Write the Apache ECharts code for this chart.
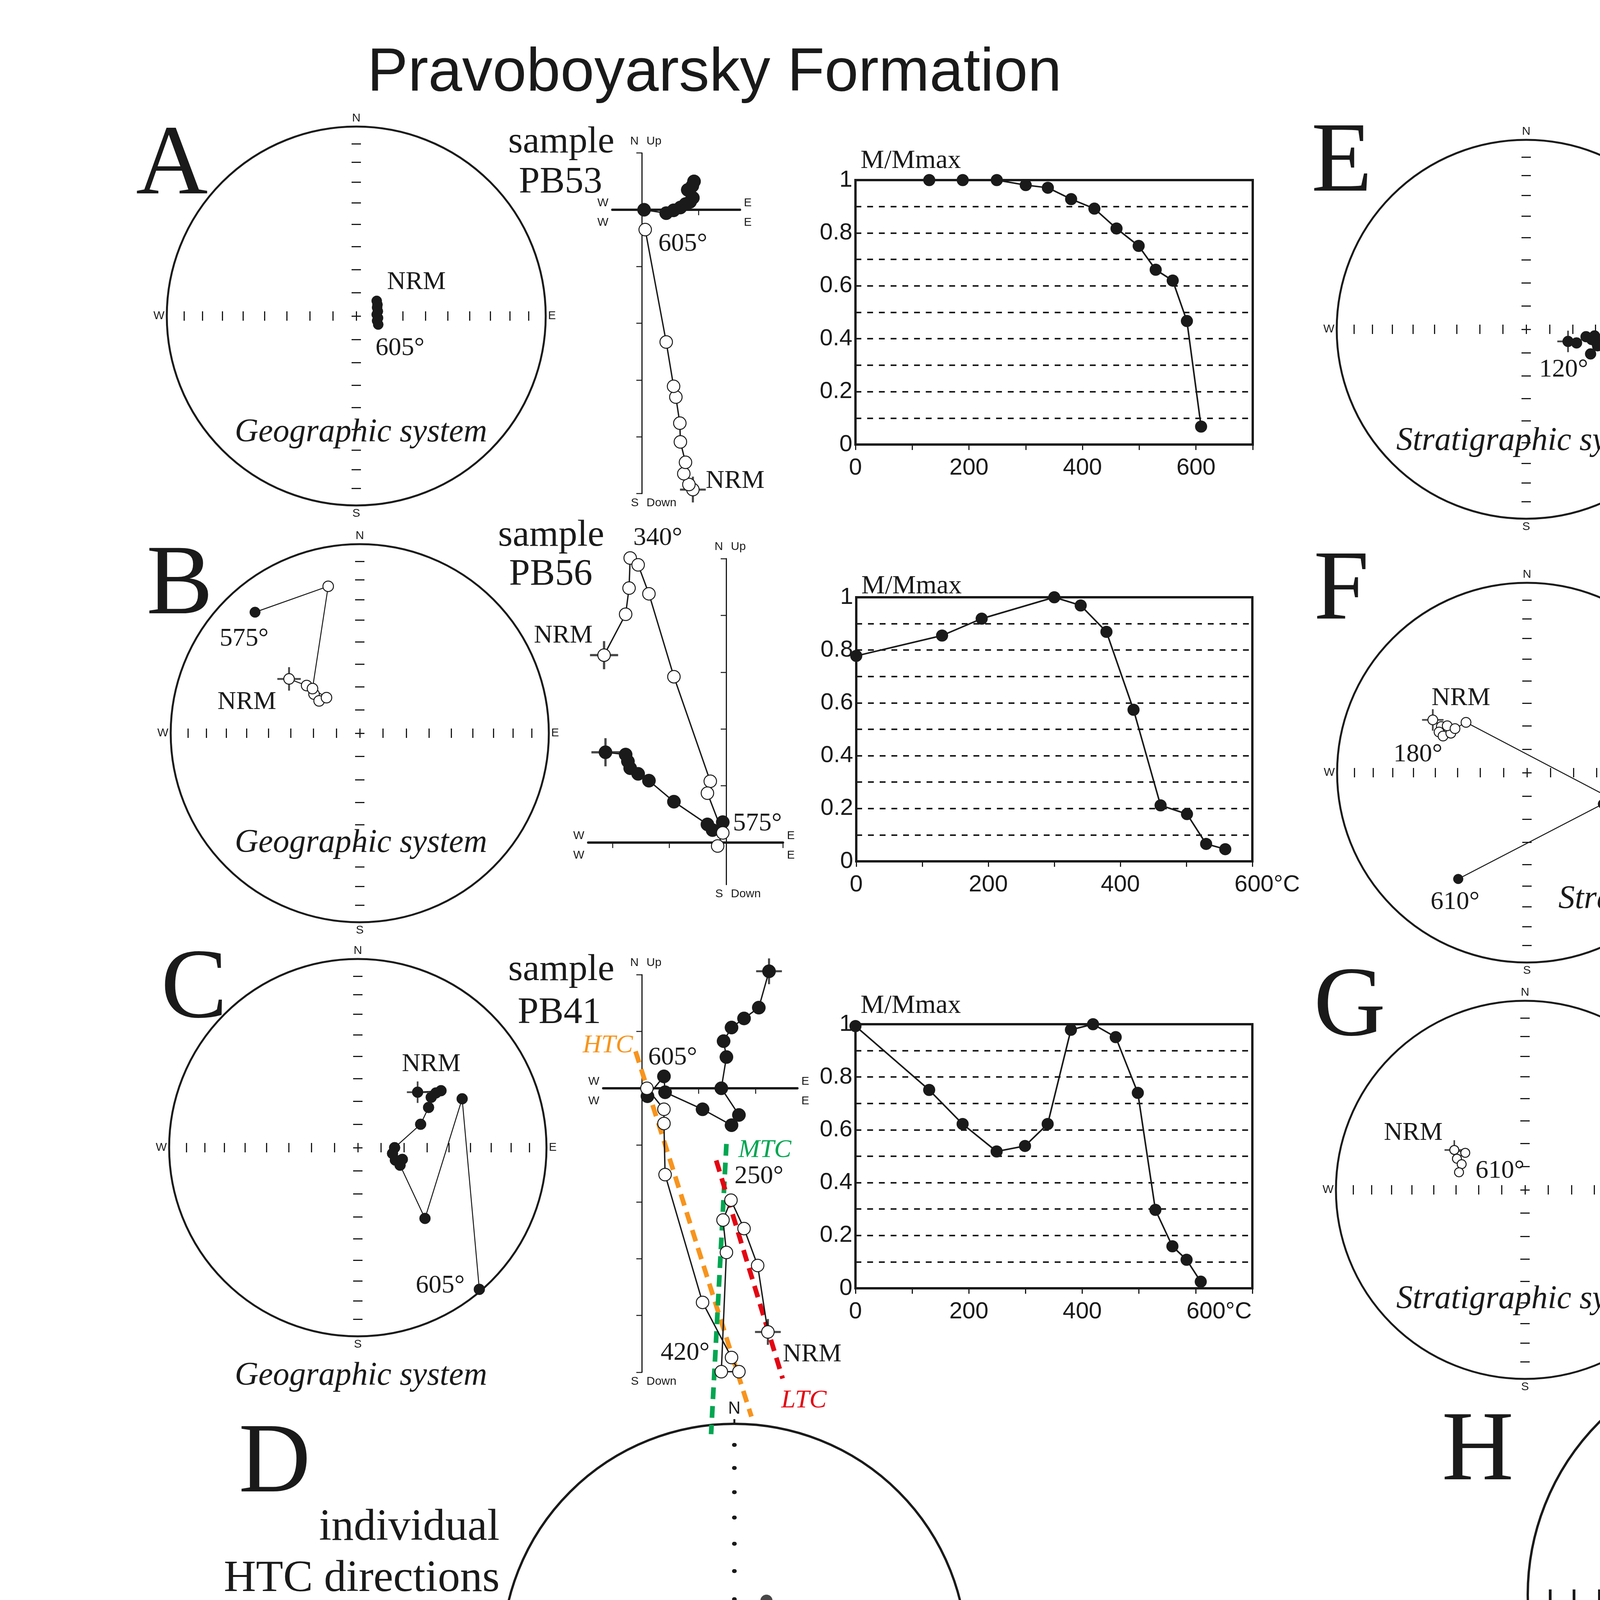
<!DOCTYPE html>
<html><head><meta charset="utf-8">
<script src="https://cdn.jsdelivr.net/npm/echarts@6/dist/echarts.min.js"></script>
<style>html,body{margin:0;padding:0;background:#fff}#main{width:7009px;height:4959px}</style>
</head><body><div id="main"></div>
<script>
// ================= DATA =================
// Stereonets: equal-area projected [east, north, lowerHemisphere 1 / upper 0], demagnetization order
const A_net = [[0.108,0.080,1],[0.112,0.060,1],[0.110,0.045,1],[0.114,0.025,1],[0.108,0.008,1],[0.115,-0.010,1],[0.110,-0.025,1],[0.116,-0.045,1]];
const B_net = [[-0.374,0.287,0],[-0.281,0.252,0],[-0.242,0.207,0],[-0.215,0.171,0],[-0.176,0.188,0],[-0.250,0.236,0],[-0.167,0.777,0],[-0.554,0.640,1]];
const C_net = [[0.317,0.294,1],[0.441,0.302,1],[0.414,0.290,1],[0.389,0.267,1],[0.375,0.213,1],[0.333,0.124,1],[0.195,0.000,1],[0.184,-0.031,1],[0.199,-0.066,1],[0.236,-0.062,1],[0.224,-0.093,1],[0.356,-0.375,1],[0.553,0.259,1],[0.644,-0.751,1]];
const E_net = [[0.221,-0.064,1],[0.266,-0.072,1],[0.316,-0.039,1],[0.346,-0.054,1],[0.361,-0.035,1],[0.425,-0.087,1],[0.369,-0.066,1],[0.340,-0.130,1],[0.377,-0.087,1],[0.540,0.208,1]];
const F_net = [[-0.496,0.278,0],[-0.451,0.243,0],[-0.463,0.214,0],[-0.442,0.193,0],[-0.401,0.208,0],[-0.420,0.247,0],[-0.379,0.232,0],[-0.321,0.265,0],[0.416,-0.121,1],[0.424,-0.156,1],[0.400,-0.165,1],[-0.362,-0.560,1]];
const G_net = [[-0.374,0.211,0],[-0.316,0.196,0],[-0.360,0.165,0],[-0.335,0.136,0],[-0.349,0.093,0]];
// D: individual HTC directions (lower hemisphere) and mean with alpha95 (projected units)
const D_htc = [[0.138,0.239],[0.244,0.205],[0.193,0.168],[0.050,0.145],[0.101,0.128],[-0.037,0.118],[0.161,0.114],[0.126,0.113],[0.044,0.106],[0.074,0.091],[0.054,0.061],[-0.012,0.035],[0.092,0.000],[0.076,0.025],[0.126,-0.017],[0.114,-0.025],[0.319,-0.010],[0.003,-0.034],[-0.027,-0.049],[0.104,-0.049],[0.024,-0.067],[0.197,-0.071],[0.119,-0.082],[-0.109,-0.094],[-0.024,-0.146],[0.050,-0.163],[0.101,-0.166],[0.203,-0.173]];
const D_mean = [0.087,0.017];
const D_a95 = 0.054;
// H: flow-mean directions, reversed (upper, open) and normal (lower, filled)
const H_reversed = [[-0.228,0.270],[-0.320,0.163],[-0.265,0.129],[-0.158,0.054],[-0.476,0.038],[-0.423,0.014],[-0.311,-0.064],[-0.321,-0.089],[-0.220,-0.075],[-0.158,-0.096],[-0.129,-0.070],[-0.208,-0.144]];
const H_normal = [[-0.043,-0.018],[0.161,-0.018],[0.192,-0.046],[0.214,-0.027],[0.196,-0.115],[0.236,0.072],[0.265,0.080],[0.265,0.053],[0.286,0.112],[0.340,0.101],[0.356,0.097],[0.398,0.065],[0.442,0.112],[0.477,0.091],[0.506,0.123],[0.538,0.105],[0.506,0.101],[0.518,0.051],[0.575,0.038],[0.438,0.005],[0.337,-0.048],[0.375,-0.059],[0.366,-0.088],[0.340,-0.115],[0.412,-0.149],[0.551,-0.059],[0.537,-0.125]];
const H_meanReversed = [-0.275,0.011];
const H_a95Reversed = 0.091;
const H_meanNormal = [0.366,0.016];
const H_a95Normal = 0.051;

// Zijderveld diagrams (tick units): horizontal projection [E, N] (filled), vertical projection [E, Up] (open), from NRM
const A_hor = [[0.92,0.50],[0.89,0.42],[0.81,0.35],[0.90,0.21],[0.85,0.14],[0.77,0.10],[0.68,0.04],[0.56,-0.01],[0.43,-0.06],[0.04,0.00]];
const A_ver = [[0.90,-4.93],[0.83,-4.84],[0.74,-4.65],[0.77,-4.45],[0.68,-4.09],[0.67,-3.76],[0.60,-3.30],[0.56,-3.11],[0.43,-2.33],[0.06,-0.35]];
const B_hor = [[-2.125,1.59],[-1.77,1.55],[-1.73,1.43],[-1.69,1.31],[-1.55,1.21],[-1.36,1.09],[-0.92,0.72],[-0.33,0.32],[-0.24,0.22],[-0.06,0.36]];
const B_ver = [[-2.15,3.30],[-1.77,4.02],[-1.71,4.48],[-1.69,5.01],[-1.55,4.89],[-1.36,4.38],[-0.92,2.92],[-0.28,1.08],[-0.33,0.87],[-0.06,0.17],[-0.15,-0.06]];
const C_hor = [[2.24,2.06],[2.06,1.42],[1.80,1.23],[1.58,1.07],[1.44,0.83],[1.49,0.55],[1.40,0.00],[1.71,-0.47],[1.58,-0.65],[1.07,-0.37],[0.41,-0.07],[0.39,0.21],[0.10,-0.14]];
const C_ver = [[2.22,-4.29],[2.04,-3.12],[1.80,-2.47],[1.57,-1.97],[1.43,-2.32],[1.49,-2.89],[1.40,-4.99],[1.71,-4.99],[1.58,-4.74],[1.07,-3.77],[0.41,-1.52],[0.39,-0.62],[0.39,-0.37],[0.09,0.00]];
const C_LTC = [[1.31,-1.27],[2.48,-5.11]];
const C_MTC = [[1.49,-0.98],[1.22,-6.09]];
const C_HTC = [[-0.11,0.65],[1.93,-5.78]];
const E_hor = [[1.67,-0.49],[1.77,-0.42],[1.81,-0.32],[1.60,-0.18],[1.39,-0.32],[1.22,-0.22],[1.02,-0.18],[0.88,-0.20],[0.67,-0.07],[0.56,-0.25],[0.35,-0.10],[0.00,0.05]];
const E_ver = [[1.62,-5.01],[1.75,-4.38],[1.82,-3.77],[1.79,-3.60],[1.84,-3.42],[1.75,-3.27],[1.60,-2.87],[1.48,-2.77],[1.46,-2.67],[1.39,-2.52],[1.35,-2.37],[1.24,-2.13],[1.04,-1.77],[0.67,-1.44],[0.88,-1.29],[0.54,-1.06],[0.35,-0.69],[0.02,-0.03]];
const F_hor = [[-2.91,1.63],[-3.60,1.68],[-3.73,1.72],[-3.86,1.65],[-3.36,1.44],[-2.10,1.16],[-1.97,0.88],[-1.59,0.82],[-1.22,0.65],[-0.81,0.51],[-0.28,0.22],[0.95,-0.29],[1.51,-0.48],[1.81,-0.79],[2.06,-0.73],[2.14,-0.90],[-0.08,-0.15]];
const F_ver = [[-2.91,3.09],[-3.58,4.45],[-3.85,5.05],[-3.73,5.00],[-3.36,4.44],[-2.10,2.84],[-1.97,2.66],[-1.59,2.29],[-1.24,1.84],[-0.81,1.30],[-0.28,0.53],[0.95,-1.35],[1.51,-2.23],[1.81,-2.78],[2.04,-2.70],[2.09,-2.97],[-0.13,-0.14]];
const F_LTC = [[-4.25,5.82],[-2.64,2.11]];
const F_MTC = [[-4.15,5.96],[2.66,-3.34]];
const F_HTC = [[-0.23,-0.13],[2.16,-3.37]];
const G_hor = [[-2.95,1.66],[-2.90,1.57],[-2.82,1.50],[-2.75,1.41],[-2.14,1.18],[-1.54,0.76],[-1.39,0.82],[-1.24,0.67],[-1.06,0.56],[-0.87,0.46],[-0.69,0.40],[-0.45,0.30],[-0.15,0.15],[-0.03,0.00]];
const G_ver = [[-2.95,4.73],[-2.87,4.88],[-2.72,4.97],[-2.84,5.06],[-2.14,3.93],[-1.54,2.84],[-1.39,2.61],[-1.20,2.29],[-1.06,1.99],[-0.87,1.64],[-0.68,1.31],[-0.42,0.86],[-0.19,0.40],[-0.12,0.30],[-0.06,0.11]];

// Thermal demagnetization curves: temperature (°C) and M/Mmax
const A_T = [130,189,249,300,339,380,421,460,499,529,559,584,609];
const A_M = [1.0,1.0,1.0,0.981,0.971,0.928,0.892,0.817,0.751,0.661,0.620,0.467,0.068];
const B_T = [0,130,190,300,340,379,420,461,501,530,559];
const B_M = [0.778,0.855,0.919,1.0,0.969,0.869,0.574,0.212,0.179,0.066,0.046];
const C_T = [0,130,189,249,299,339,380,419,459,498,529,559,584,609];
const C_M = [0.993,0.751,0.622,0.518,0.539,0.622,0.979,1.0,0.951,0.740,0.297,0.159,0.108,0.025];
const E_T = [109,181,250,300,350,390,430,465,495,520,534,549,564,572,580,588,595,615];
const E_M = [1.0,0.896,0.794,0.761,0.735,0.702,0.624,0.588,0.573,0.547,0.522,0.469,0.392,0.302,0.302,0.229,0.147,0.01];
const F_T = [0,109,180,248,298,348,389,427,462,492,517,533,547,557,570,578,587,593,613];
const F_M = [0.701,0.917,1.0,1.0,0.888,0.571,0.526,0.447,0.356,0.248,0.094,0.258,0.535,0.565,0.585,0.577,0.526,0.423,0.035];
const G_T = [0,109,179,249,301,351,392,432,466,497,522,537,555,568,579,587,593];
const G_M = [0.972,0.989,1.0,0.979,0.776,0.554,0.508,0.448,0.391,0.322,0.254,0.167,0.067,0.05,0.027,0.018,0.013];

// Stereonet tick inclinations (equal-area, every 10°)
const NET_TICK_INC = [10,20,30,40,50,60,70,80];

// ================= STYLE / LAYOUT =================
const INK = '#1a1a1a', RED = '#E30613', GREEN = '#00A651', ORANGE = '#F7941D', BLUE = '#1BA1E2';
const SANS = '"Liberation Sans", Arial, sans-serif';
const SERIF = '"Liberation Serif", "Times New Roman", serif';
const CROSS = 'path://M0,46H100V54H0Z M46,0H54V100H46Z';

const option = {animation:false, backgroundColor:'#fff', textStyle:{fontFamily:SANS},
  grid:[], xAxis:[], yAxis:[], polar:[], angleAxis:[], radiusAxis:[], series:[], graphic:{elements:[]}};

function eqArea(inc){ return Math.SQRT2*Math.sin((90-inc)*Math.PI/360); }
const NET_TICKS = [0].concat(NET_TICK_INC.map(eqArea), NET_TICK_INC.map(i => -eqArea(i)));
const NSEW = {0:'N',90:'E',180:'S',270:'W'};

function addGrid(l,t,w,h,extra){
  option.grid.push(Object.assign({left:l, top:t, width:w, height:h, containLabel:false, outerBoundsMode:'none'}, extra||{}));
  return option.grid.length-1;
}
function txt(x,y,s,size,o){
  o = o||{};
  const al = o.align||'center';
  option.graphic.elements.push({type:'text', x:x, y:y, silent:true, z:50,
    style:{text:s, fill:o.color||INK, font:(o.italic?'italic ':'')+size+'px '+(o.sans?SANS:SERIF),
      textAlign:al, align:al, textVerticalAlign:'middle', verticalAlign:'middle'}});
}

function addNet(n){
  const pi = option.polar.length;
  option.polar.push({center:[n.cx,n.cy], radius:n.r});
  option.angleAxis.push({polarIndex:pi, type:'value', min:0, max:360, interval:90, startAngle:90, clockwise:true,
    axisLine:{show:true, lineStyle:{color:INK, width:n.ring}},
    axisTick:{show:!!n.edge, length:n.edge||1, lineStyle:{color:INK, width:5}},
    splitLine:{show:false}, splitArea:{show:false},
    axisLabel:{show:n.lab>0, margin:n.margin, color:INK, fontSize:n.lab||10, fontFamily:SANS, formatter:v => NSEW[v]||''}});
  option.radiusAxis.push({polarIndex:pi, type:'value', min:0, max:1, show:false});
  const tk = {color:INK, width:n.tw, cap:n.cap||'butt'};
  const g1 = addGrid(n.cx-n.r, n.cy-n.ew/2, 2*n.r, n.ew);
  option.xAxis.push({gridIndex:g1, type:'value', min:-1, max:1, axisLine:{show:false,onZero:false},
    axisTick:{show:true, inside:true, length:n.ew, customValues:NET_TICKS, lineStyle:tk}, axisLabel:{show:false}, splitLine:{show:false}});
  option.yAxis.push({gridIndex:g1, type:'value', min:0, max:1, show:false});
  const g2 = addGrid(n.cx-n.ns/2, n.cy-n.r, n.ns, 2*n.r);
  option.xAxis.push({gridIndex:g2, type:'value', min:0, max:1, show:false});
  option.yAxis.push({gridIndex:g2, type:'value', min:-1, max:1, axisLine:{show:false,onZero:false},
    axisTick:{show:true, inside:true, length:n.ns, customValues:NET_TICKS, lineStyle:tk}, axisLabel:{show:false}, splitLine:{show:false}});
  const g = addGrid(n.cx-n.r, n.cy-n.r, 2*n.r, 2*n.r);
  option.xAxis.push({gridIndex:g, type:'value', min:-1, max:1, show:false});
  option.yAxis.push({gridIndex:g, type:'value', min:-1, max:1, show:false});
  return g;
}
function netPath(g, pts, size, cross){
  if (cross) option.series.push({type:'scatter', xAxisIndex:g, yAxisIndex:g, data:[[pts[0][0],pts[0][1]]], symbol:CROSS, symbolSize:cross, itemStyle:{color:INK}, z:2, silent:true, clip:false});
  option.series.push({type:'line', xAxisIndex:g, yAxisIndex:g, clip:false, silent:true, z:3,
    data:pts.map(p => ({value:[p[0],p[1]], itemStyle: p[2] ? {color:INK, borderColor:INK, borderWidth:1} : {color:'#fff', borderColor:INK, borderWidth:2.5}})),
    symbol:'circle', symbolSize:size, showSymbol:true, showAllSymbol:true, lineStyle:{color:INK, width:2.5}});
}

function addZij(z){
  const l = z.ox+z.x[0]*z.u, w = (z.x[1]-z.x[0])*z.u, t = z.oy-z.y[1]*z.u, h = (z.y[1]-z.y[0])*z.u;
  const g = addGrid(l,t,w,h);
  const xt=[], yt=[];
  for (let i=Math.ceil(z.x[0]); i<=Math.floor(z.x[1]+1e-9); i++) if (i!==0) xt.push(i);
  for (let i=Math.ceil(z.y[0]); i<=Math.floor(z.y[1]+1e-9); i++) if (i!==0) yt.push(i);
  option.xAxis.push({gridIndex:g, type:'value', min:z.x[0], max:z.x[1], axisLine:{show:true, onZero:true, lineStyle:{color:INK, width:6}},
    axisTick:{show:true, customValues:xt, length:14, lineStyle:{color:INK, width:2.5}}, axisLabel:{show:false}, splitLine:{show:false}});
  option.yAxis.push({gridIndex:g, type:'value', min:z.y[0], max:z.y[1], axisLine:{show:true, onZero:true, lineStyle:{color:INK, width:3}},
    axisTick:{show:true, customValues:yt, length:14, lineStyle:{color:INK, width:2.5}}, axisLabel:{show:false}, splitLine:{show:false}});
  const bot = t+h, right = l+w;
  txt(z.ox-8, t-30, 'N', 30, {sans:1, align:'right'}); txt(z.ox+12, t-30, 'Up', 30, {sans:1, align:'left'});
  txt(z.ox-8, bot+24, 'S', 30, {sans:1, align:'right'}); txt(z.ox+12, bot+24, 'Down', 30, {sans:1, align:'left'});
  txt(l-24, z.oy-17, 'W', 30, {sans:1}); txt(l-24, z.oy+33, 'W', 30, {sans:1});
  txt(right+20, z.oy-17, 'E', 30, {sans:1}); txt(right+20, z.oy+33, 'E', 30, {sans:1});
  return g;
}
function zijPath(g, pts, filled, size, cross){
  if (cross) option.series.push({type:'scatter', xAxisIndex:g, yAxisIndex:g, data:[pts[0]], symbol:CROSS, symbolSize:cross, itemStyle:{color:INK}, z:2, silent:true, clip:false});
  option.series.push({type:'line', xAxisIndex:g, yAxisIndex:g, data:pts, clip:false, silent:true, z:3,
    symbol:'circle', symbolSize:size, showSymbol:true, showAllSymbol:true,
    itemStyle: filled ? {color:INK, borderColor:INK, borderWidth:1} : {color:'#fff', borderColor:INK, borderWidth:2.5},
    lineStyle:{color:INK, width:3.5}});
}
function fitLine(g, pts, color){
  option.series.push({type:'line', xAxisIndex:g, yAxisIndex:g, data:pts, symbol:'none', clip:false, silent:true, z:2,
    lineStyle:{color:color, width:12, type:[30,18]}});
}

function addDemag(d, T, M){
  const g = addGrid(d.l, d.t, d.w, d.h, {show:true, borderColor:INK, borderWidth:d.bw, backgroundColor:'rgba(0,0,0,0)'});
  option.xAxis.push({gridIndex:g, type:'value', min:0, max:d.max, interval:100,
    axisLine:{show:false, onZero:false}, axisTick:{show:true, length:14, lineStyle:{color:INK, width:3}},
    axisLabel:{show:true, color:INK, fontSize:60, fontFamily:SANS, margin:30,
      formatter: v => { if (v%200!==0 || v>600) return ''; if (v===600 && d.last) return '{c|'+d.last+'}'; return String(v); },
      rich:{c:{fontSize:60, fontFamily:SANS, color:INK, padding:[0,0,0,d.pad||0]}}},
    splitLine:{show:false}});
  option.yAxis.push({gridIndex:g, type:'value', min:0, max:1, interval:0.1,
    axisLine:{show:false, onZero:false}, axisTick:{show:false},
    axisLabel:{show:true, color:INK, fontSize:60, fontFamily:SANS, margin:8,
      formatter: v => { const k = Math.round(v*10); return k%2===0 ? String(k/10) : ''; }},
    splitLine:{show:true, lineStyle:{color:INK, width:d.gw, type:d.dash}}});
  option.series.push({type:'line', xAxisIndex:g, yAxisIndex:g, data:T.map((t,i) => [t, M[i]]), clip:false, silent:true, z:3,
    symbol:'circle', symbolSize:d.ms, showSymbol:true, showAllSymbol:true, itemStyle:{color:INK}, lineStyle:{color:INK, width:d.lw}});
  txt(d.l+13, d.t-d.mlab, 'M/Mmax', 68, {align:'left'});
}

// ---------------- stereonets ----------------
const netStd = {ring:5, ew:24, ns:24, tw:3, lab:30, margin:6};
const gA = addNet(Object.assign({cx:912, cy:809, r:485}, netStd));
netPath(gA, A_net, 26, 0);
const gB = addNet(Object.assign({cx:921, cy:1877, r:484}, netStd));
netPath(gB, B_net, 27, 60);
const gC = addNet(Object.assign({cx:916, cy:2938, r:483}, netStd));
netPath(gC, C_net, 28, 55);
const gE = addNet(Object.assign({cx:3907, cy:843, r:485}, netStd));
netPath(gE, E_net, 28, 55);
const gF = addNet(Object.assign({cx:3909, cy:1978, r:486}, netStd));
netPath(gF, F_net, 25, 55);
const gG = addNet(Object.assign({cx:3904, cy:3046, r:484}, netStd));
netPath(gG, G_net, 23, 50);

const gD = addNet({cx:1880, cy:4240, r:595, ring:6, ew:2, ns:2, tw:10, cap:'round', lab:44, margin:16, edge:12});
option.series.push({type:'scatter', xAxisIndex:gD, yAxisIndex:gD, data:D_htc, symbol:'circle', symbolSize:31, itemStyle:{color:INK}, z:3, silent:true});
option.series.push({type:'scatter', xAxisIndex:gD, yAxisIndex:gD, data:[D_mean], symbol:'diamond', symbolSize:[40,52], itemStyle:{color:RED, borderColor:'#000', borderWidth:2}, z:4, silent:true});
option.series.push({type:'scatter', xAxisIndex:gD, yAxisIndex:gD, data:[D_mean], symbol:'circle', symbolSize:2*D_a95*595, itemStyle:{color:'rgba(0,0,0,0)', borderColor:RED, borderWidth:5}, z:5, silent:true});

const gH = addNet({cx:4537, cy:4083, r:626, ring:6, ew:28, ns:32, tw:7, lab:0, margin:6});
option.series.push({type:'scatter', xAxisIndex:gH, yAxisIndex:gH, data:H_reversed, symbol:'circle', symbolSize:28, itemStyle:{color:'#fff', borderColor:INK, borderWidth:5}, z:3, silent:true});
option.series.push({type:'scatter', xAxisIndex:gH, yAxisIndex:gH, data:H_normal, symbol:'circle', symbolSize:27, itemStyle:{color:INK}, z:3, silent:true});
option.series.push({type:'scatter', xAxisIndex:gH, yAxisIndex:gH, data:[H_meanReversed], symbol:'circle', symbolSize:40, itemStyle:{color:BLUE, borderColor:INK, borderWidth:4}, z:4, silent:true});
option.series.push({type:'scatter', xAxisIndex:gH, yAxisIndex:gH, data:[H_meanReversed], symbol:'circle', symbolSize:2*H_a95Reversed*626, itemStyle:{color:'rgba(0,0,0,0)', borderColor:BLUE, borderWidth:7}, z:5, silent:true});
option.series.push({type:'scatter', xAxisIndex:gH, yAxisIndex:gH, data:[H_meanNormal], symbol:'circle', symbolSize:32, itemStyle:{color:RED, borderColor:INK, borderWidth:4}, z:4, silent:true});
option.series.push({type:'scatter', xAxisIndex:gH, yAxisIndex:gH, data:[H_meanNormal], symbol:'circle', symbolSize:2*H_a95Normal*626, itemStyle:{color:'rgba(0,0,0,0)', borderColor:RED, borderWidth:6}, z:5, silent:true});

// ---------------- Zijderveld diagrams ----------------
const zA = addZij({ox:1643, oy:537, u:145.3, x:[-0.52,1.73], y:[-5,1]});
zijPath(zA, A_hor, true, 34, 0); zijPath(zA, A_ver, false, 32, 66);
const zB = addZij({ox:1859, oy:2157, u:145.4, x:[-2.43,1.0], y:[-0.74,5]});
zijPath(zB, B_hor, true, 34, 72); zijPath(zB, B_ver, false, 32, 72);
const zC = addZij({ox:1643, oy:2786, u:145.4, x:[-0.68,2.74], y:[-5,2]});
fitLine(zC, C_HTC, ORANGE); fitLine(zC, C_MTC, GREEN); fitLine(zC, C_LTC, RED);
zijPath(zC, C_hor, true, 34, 66); zijPath(zC, C_ver, false, 32, 66);
const zE = addZij({ox:5043, oy:610, u:154.6, x:[-1.02,3.22], y:[-5,1]});
zijPath(zE, E_hor, true, 32, 60); zijPath(zE, E_ver, false, 30, 66);
const zF = addZij({ox:5237, oy:2154, u:154.3, x:[-4.03,2.8], y:[-2,4]});
fitLine(zF, F_LTC, RED); fitLine(zF, F_MTC, GREEN); fitLine(zF, F_HTC, ORANGE);
zijPath(zF, F_hor, true, 33, 70); zijPath(zF, F_ver, false, 31, 70);
const zG = addZij({ox:5240, oy:3376, u:154.4, x:[-2.99,1.02], y:[-1,5]});
zijPath(zG, G_hor, true, 34, 66); zijPath(zG, G_ver, false, 29, 66);

// ---------------- demagnetization curves ----------------
const thick = {bw:6, gw:4, dash:[15,15], ms:31, lw:4};
addDemag(Object.assign({l:2190, t:461, w:1017, h:677, max:700, mlab:49}, thick), A_T, A_M);
addDemag(Object.assign({l:2192, t:1529, w:1014, h:676, max:600, last:'600°C', pad:76, mlab:28}, thick), B_T, B_M);
addDemag(Object.assign({l:2190, t:2622, w:1016, h:676, max:700, last:'600°C', pad:120, mlab:47}, thick), C_T, C_M);
addDemag({l:5840, t:526, w:1016, h:677, max:700, last:'600°C', pad:114, bw:3, gw:2.5, dash:[12,8], ms:27, lw:3, mlab:46}, E_T, E_M);
addDemag({l:5838, t:1634, w:920, h:674, max:635, last:'600°C', pad:40, bw:3, gw:2.5, dash:[12,8], ms:27, lw:3, mlab:47}, F_T, F_M);
addDemag({l:5842, t:2703, w:1002, h:670, max:600, last:'600°C', pad:0, bw:6, gw:4, dash:[8,16], ms:29, lw:3, mlab:47}, G_T, G_M);

// ---------------- texts ----------------
txt(1829, 189, 'Pravoboyarsky Formation', 156, {sans:1});
txt(5291, 202, 'Onkuchaksky Formation', 156, {sans:1});
[['A',440,428],['B',460,1503],['C',497,2537],['D',703,3751],['E',3435,421],['F',3434,1517],['G',3455,2583],['H',3783,3720]]
  .forEach(a => txt(a[1], a[2], a[0], 255));
[[1437,365,'sample'],[1435,468,'PB53'],[1411,1372,'sample'],[1410,1472,'PB56'],[1437,2484,'sample'],[1432,2594,'PB41'],
 [4500,395,'sample'],[4495,505,'MK045'],[4477,1500,'sample'],[4475,1607,'MK036'],[4447,2565,'sample'],[4443,2671,'MK032']]
  .forEach(a => txt(a[0], a[1], a[2], 96));
[[924,1108,'Geographic system',84],[924,2159,'Geographic system',84],[924,3523,'Geographic system',84],[1916,4637,'Geographic system',99],
 [3921,1130,'Stratigraphic system',84],[4336,2303,'Stratigraphic system',84],[3921,3327,'Stratigraphic system',84],[4537,4452,'Stratigraphic system',99]]
  .forEach(a => txt(a[0], a[1], a[2], a[3], {italic:1}));
txt(1279, 3912, 'individual', 114, {align:'right'});
txt(1279, 4043, 'HTC directions', 114, {align:'right'});
txt(5184, 4272, 'flow-mean', 114, {align:'left'});
txt(5184, 4402, 'directions', 114, {align:'left'});
[[1066,723,'NRM'],[1024,892,'605°'],[1748,625,'605°'],[1882,1232,'NRM'],
 [625,1636,'575°'],[632,1798,'NRM'],[1684,1378,'340°'],[1442,1628,'NRM'],[1939,2109,'575°'],
 [1104,2725,'NRM'],[1127,3292,'605°'],[1722,2708,'605°'],[1943,3012,'250°'],[1754,3464,'420°'],[2079,3468,'NRM'],
 [4237,692,'610°'],[4003,947,'120°'],[5133,564,'610°'],[5416,1130,'360°'],[5387,1440,'120°'],
 [3740,1788,'NRM'],[3630,1932,'180°'],[4212,2040,'540°'],[4161,2120,'575°'],[3725,2310,'610°'],
 [4575,1384,'180°'],[4697,1741,'NRM'],[5133,2224,'610°'],[5635,2535,'540°'],[5432,2616,'575°'],
 [3618,2901,'NRM'],[3840,2998,'610°'],[4867,2537,'180°'],[4699,2719,'NRM'],[5334,3326,'610°']]
  .forEach(a => txt(a[0], a[1], a[2], 66));
[[1556,2677,'HTC',ORANGE],[1958,2945,'MTC',GREEN],[2058,3586,'LTC',RED],
 [4506,1305,'LTC',RED],[4942,1542,'MTC',GREEN],[5309,2439,'HTC',ORANGE]]
  .forEach(a => txt(a[0], a[1], a[2], 66, {italic:1, color:a[3]}));

const chart = echarts.init(document.getElementById('main'), null, {renderer:'canvas', width:7009, height:4959});
chart.setOption(option);
</script>
</body></html>
